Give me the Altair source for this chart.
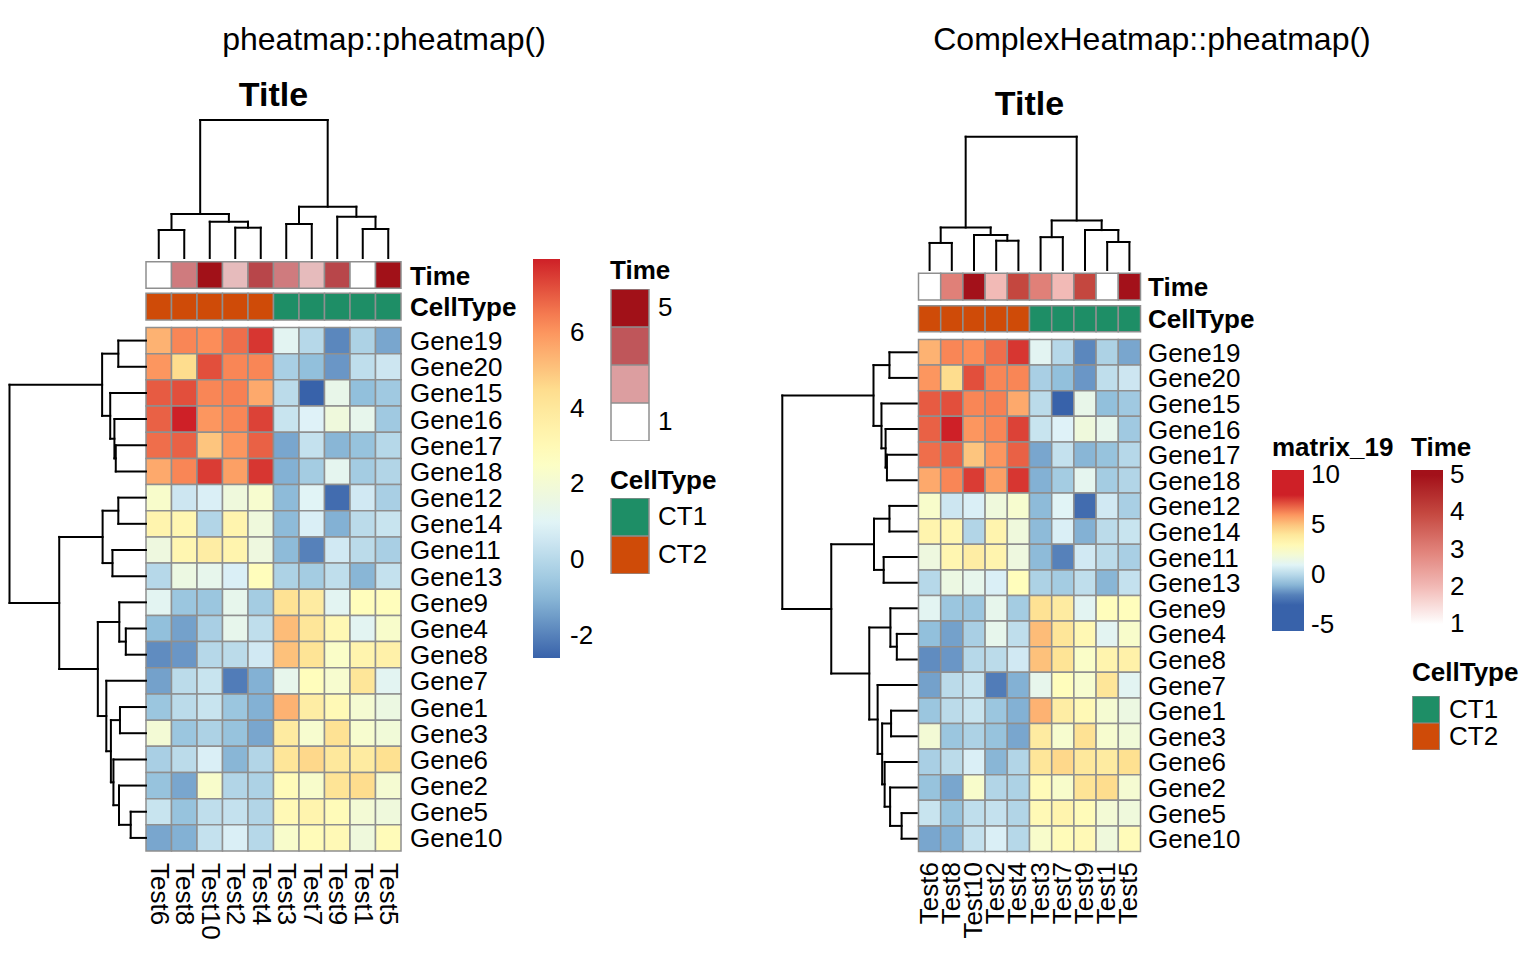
import altair as alt
import pandas as pd

# ---------------- data ----------------
genes = ["Gene19", "Gene20", "Gene15", "Gene16", "Gene17", "Gene18", "Gene12", "Gene14",
         "Gene11", "Gene13", "Gene9", "Gene4", "Gene8", "Gene7", "Gene1", "Gene3",
         "Gene6", "Gene2", "Gene5", "Gene10"]
tests = ["Test6", "Test8", "Test10", "Test2", "Test4", "Test3", "Test7", "Test9", "Test1", "Test5"]

values = [
    [5.4, 6.3, 6.2, 6.7, 7.6, 1.1, 0.0, -1.9, -0.2, -1.3],   # Gene19
    [6.0, 4.5, 7.2, 6.3, 6.3, -0.3, -0.8, -1.6, 0.2, 0.5],   # Gene20
    [7.0, 7.2, 6.3, 6.4, 5.6, 0.1, -2.59, 1.4, -0.8, -0.5],  # Gene15
    [6.9, 7.95, 6.0, 6.3, 7.4, 0.4, 0.9, 1.8, 1.3, -0.5],    # Gene16
    [6.7, 6.9, 5.0, 6.0, 6.9, -1.3, 0.3, -1.0, -0.7, 0.0],   # Gene17
    [5.6, 6.3, 7.5, 5.8, 7.6, -1.1, -0.4, 1.2, -0.4, -0.1],  # Gene18
    [2.3, 0.5, 0.8, 1.8, 2.2, -0.9, 1.0, -2.4, 0.6, -0.3],   # Gene12
    [3.3, 3.2, -0.1, 3.3, 1.8, -0.9, 0.8, -1.1, 0.1, 0.4],   # Gene14
    [1.7, 3.2, 3.7, 3.3, 1.7, -0.9, -2.0, 0.6, 0.1, -0.3],   # Gene11
    [0.0, 1.6, 1.3, 0.8, 2.8, -0.2, -0.4, 0.2, -1.0, 0.3],   # Gene13
    [1.1, -0.6, -0.6, 1.3, -0.4, 4.3, 3.8, 1.1, 2.8, 2.8],   # Gene9
    [-0.8, -1.4, -0.3, 1.3, 0.2, 5.2, 4.1, 3.1, 1.1, 2.3],   # Gene4
    [-1.8, -1.6, 0.0, 0.1, 0.6, 5.1, 4.2, 2.4, 3.3, 3.5],    # Gene8
    [-1.4, 0.1, 0.4, -2.1, -1.1, 1.3, 2.8, 2.2, 4.1, 1.1],   # Gene7
    [-0.6, 0.1, 0.4, -0.6, -1.1, 5.4, 3.7, 3.0, 2.1, 1.6],   # Gene1
    [2.0, -0.6, -0.2, -0.7, -1.3, 3.8, 2.2, 4.3, 2.2, 1.9],  # Gene3
    [-0.3, 0.1, 0.8, -1.0, -0.1, 4.1, 4.6, 4.0, 3.8, 4.4],   # Gene6
    [-0.7, -1.3, 2.3, -0.1, -0.2, 2.9, 2.3, 4.2, 4.5, 2.1],  # Gene2
    [0.4, -0.7, 0.2, 0.3, -0.1, 3.0, 3.3, 2.9, 2.0, 1.8],    # Gene5
    [-1.3, -1.1, 0.3, 0.8, 0.0, 2.3, 2.9, 3.0, 1.8, 2.9],    # Gene10
]

time_values = [1, 3, 5, 2, 4, 3, 2, 4, 1, 5]
cell_types = ["CT2", "CT2", "CT2", "CT2", "CT2", "CT1", "CT1", "CT1", "CT1", "CT1"]

# hclust-style merges (negative = leaf in display order, positive = earlier merge), height
col_merges = [(-1, -2, 28.0), (-4, -5, 30.3), (-3, 2, 36.3), (1, 3, 44.0), (-6, -7, 34.0),
              (-9, -10, 29.0), (-8, 6, 41.3), (5, 7, 51.3), (4, 8, 138.0)]
row_merges = [(-1, -2, 28.4), (-5, -6, 31.0), (-4, 2, 32.4), (-3, 3, 36.7), (1, 4, 45.0),
              (-7, -8, 28.4), (-9, -10, 34.4), (6, 7, 44.5), (-12, -13, 20.7), (-11, 9, 27.4),
              (-15, -16, 26.7), (-19, -20, 15.7), (-18, 12, 27.7), (-17, 13, 33.4), (11, 14, 36.0),
              (-14, 15, 40.7), (10, 16, 49.4), (8, 17, 89.0), (5, 18, 140.0)]

heat_ticks_left = [-2, 0, 2, 4, 6]
heat_ticks_right = [-5, 0, 5, 10]
time_ticks_right = [1, 2, 3, 4, 5]
time_swatches_left = [5, 3.7, 2.45, 1]
celltype_levels = ["CT1", "CT2"]

headers = ["pheatmap::pheatmap()", "ComplexHeatmap::pheatmap()"]
main_title = "Title"
matrix_name = "matrix_19"

# ---------------- styles ----------------
FONT = "Liberation Sans"
BORDER = "#8f8f8f"
TOP = 8
H = 936
heat_colors = ["#3862AA", "#91BFDB", "#E0F3F8", "#FFFFBF", "#FEE090", "#FC8D59", "#CE2027"]
heat_lo, heat_hi = -2.59, 7.95
heat_stops = [heat_lo + k * (heat_hi - heat_lo) / 6 for k in range(7)]
time_left_colors = ["#FFFFFF", "#E6BBBC", "#CF7B7E", "#B8464A", "#A11118"]
time_right_colors = ["#FFFFFF", "#FFFFFF", "#F2BAB6", "#E08078", "#C4473F", "#A3111A", "#A3111A"]
ct_colors = ["#1E8E66", "#CF4B08"]
PLAIN_NUM = "datum.value + ''"

heat_df = pd.DataFrame([
    {"gene": g, "test": t, "value": values[i][j], "r0": i, "r1": i + 1, "c0": j, "c1": j + 1}
    for i, g in enumerate(genes) for j, t in enumerate(tests)
])
ann_df = pd.DataFrame({"test": tests, "Time": time_values, "CellType": cell_types,
                       "c0": list(range(len(tests))), "c1": [j + 1 for j in range(len(tests))],
                       "cc": [j + 0.5 for j in range(len(tests))]})
gene_df = pd.DataFrame({"gene": genes, "rc": [i + 0.5 for i in range(len(genes))]})


def dendro_segments(merges):
    pos, hgt, segs = {}, {}, []

    def ref(k):
        if k < 0:
            return (-k - 1) + 0.5, 0.0
        return pos[k], hgt[k]

    for idx, (a, b, h) in enumerate(merges, 1):
        pa, ha = ref(a)
        pb, hb = ref(b)
        segs += [(pa, ha, pa, h), (pb, hb, pb, h), (pa, h, pb, h)]
        pos[idx] = (pa + pb) / 2
        hgt[idx] = h
    return segs, merges[-1][2]


def txt(size, bold=False):
    return dict(font=FONT, fontSize=size, fontWeight="bold" if bold else "normal", color="black")


def build_panel(g):
    x0, W = g["page_x0"], g["width"]
    cl, cw, ct, rh = g["cell_left"], g["cw"], g["cell_top"], g["rh"]

    def ux(px):
        return (px - cl) / cw

    def uy(py):
        return (py - ct) / rh

    xs = alt.Scale(domain=[ux(x0), ux(x0 + W)], nice=False, zero=False)
    ys = alt.Scale(domain=[uy(TOP + H), uy(TOP)], nice=False, zero=False)

    def X(f):
        return alt.X(f, type="quantitative", scale=xs, axis=None)

    def Y(f):
        return alt.Y(f, type="quantitative", scale=ys, axis=None)

    def XD(v):
        return alt.XDatum(v, scale=xs, axis=None)

    def YD(v):
        return alt.YDatum(v, scale=ys, axis=None)

    layers = []
    # heatmap cells
    layers.append(alt.Chart(heat_df).mark_rect(stroke=BORDER, strokeWidth=1.5).encode(
        x=X("c0"), x2="c1", y=Y("r0"), y2="r1",
        fill=alt.Fill("value:Q", scale=g["heat_scale"], legend=g["heat_legend"]),
        tooltip=["gene", "test", "value"]))
    # Time annotation
    layers.append(alt.Chart(ann_df).mark_rect(stroke=BORDER, strokeWidth=1.5).encode(
        x=X("c0"), x2="c1", y=YD(uy(g["time_row"][0])), y2=alt.datum(uy(g["time_row"][1])),
        fill=alt.Fill("Time:Q", scale=g["time_scale"], legend=g["time_legend"])))
    # CellType annotation
    layers.append(alt.Chart(ann_df).mark_rect(stroke=BORDER, strokeWidth=1.5).encode(
        x=X("c0"), x2="c1", y=YD(uy(g["ct_row"][0])), y2=alt.datum(uy(g["ct_row"][1])),
        fill=alt.Fill("CellType:N", scale=alt.Scale(domain=celltype_levels, range=ct_colors),
                      legend=g["ct_legend"])))

    # column dendrogram
    segs, root = dendro_segments(col_merges)
    base, top = uy(g["col_dendro"][0]), uy(g["col_dendro"][1])
    cd = pd.DataFrame([{"x": p1, "x2": p2,
                        "y": base - h1 / root * (base - top), "y2": base - h2 / root * (base - top)}
                       for p1, h1, p2, h2 in segs])
    layers.append(alt.Chart(cd).mark_rule(color="black", strokeWidth=2, strokeCap="square").encode(
        x=X("x"), x2="x2", y=Y("y"), y2="y2"))
    # row dendrogram
    segs, root = dendro_segments(row_merges)
    base, left = ux(g["row_dendro"][0]), ux(g["row_dendro"][1])
    rd = pd.DataFrame([{"y": p1, "y2": p2,
                        "x": base - h1 / root * (base - left), "x2": base - h2 / root * (base - left)}
                       for p1, h1, p2, h2 in segs])
    layers.append(alt.Chart(rd).mark_rule(color="black", strokeWidth=2, strokeCap="square").encode(
        x=X("x"), x2="x2", y=Y("y"), y2="y2"))

    # gene labels
    layers.append(alt.Chart(gene_df).mark_text(align="left", baseline="middle", dy=1.5,
                                               **txt(26)).encode(
        x=XD(ux(g["label_x"])), y=Y("rc"), text="gene:N"))
    # column labels
    layers.append(alt.Chart(ann_df).mark_text(angle=g["col_angle"], align=g["col_align"],
                                               baseline="middle", **txt(26)).encode(
        x=X("cc"), y=YD(uy(g["col_label_y"])), text="test:N"))
    # annotation names
    ann_names = pd.DataFrame({"name": ["Time", "CellType"],
                              "yc": [uy(sum(g["time_row"]) / 2), uy(sum(g["ct_row"]) / 2)]})
    layers.append(alt.Chart(ann_names).mark_text(align="left", baseline="middle", dy=1.5,
                                                 **txt(26, True)).encode(
        x=XD(ux(g["label_x"])), y=Y("yc"), text="name:N"))
    # header and title
    hdr = pd.DataFrame({"t": [g["header"]]})
    layers.append(alt.Chart(hdr).mark_text(align="center", baseline="middle", **txt(32)).encode(
        x=XD(ux(g["header_pos"][0])), y=YD(uy(g["header_pos"][1])), text="t:N"))
    ttl = pd.DataFrame({"t": [main_title]})
    layers.append(alt.Chart(ttl).mark_text(align="center", baseline="middle", **txt(34, True)).encode(
        x=XD(ux(g["title_pos"][0])), y=YD(uy(g["title_pos"][1])), text="t:N"))

    return alt.layer(*layers).properties(width=W, height=H).resolve_scale(fill="independent")


def leg(x, y, **kw):
    base = dict(orient="none", legendX=x, legendY=y, padding=0,
                titleFont=FONT, titleFontSize=26, titleFontWeight="bold", titleColor="black",
                labelFont=FONT, labelFontSize=26, labelColor="black", titleAnchor="start")
    base.update(kw)
    return alt.Legend(**base)


left_geom = dict(
    page_x0=8, width=760, cell_left=146, cw=25.5, cell_top=327.5, rh=26.175,
    time_row=(261.7, 288.3), ct_row=(293.3, 320.0),
    col_dendro=(258, 120), row_dendro=(146.0, 9.5),
    label_x=410, col_label_y=863, col_angle=90, col_align="left",
    header=headers[0], header_pos=(384, 40), title_pos=(273.5, 96),
    heat_scale=alt.Scale(domain=heat_stops, range=heat_colors, interpolate="rgb", clamp=True),
    heat_legend=leg(525, 251, title=None, type="gradient", direction="vertical",
                    gradientLength=399, gradientThickness=27, gradientStrokeWidth=0,
                    values=heat_ticks_left, labelOffset=10, labelExpr=PLAIN_NUM),
    time_scale=alt.Scale(domain=[1, 2, 3, 4, 5], range=time_left_colors, interpolate="rgb"),
    time_legend=leg(602, 250, title="Time", type="symbol", values=time_swatches_left,
                    symbolType="square", symbolSize=1444, symbolStrokeColor=BORDER,
                    symbolStrokeWidth=1.5, symbolOpacity=1, rowPadding=0, clipHeight=38,
                    labelOffset=8, titlePadding=5,
                    labelExpr="datum.value == 5 || datum.value == 1 ? datum.label : ''"),
    ct_legend=leg(602, 460, title="CellType", type="symbol", symbolType="square",
                  symbolSize=1444, symbolStrokeColor=BORDER, symbolStrokeWidth=1.5,
                  symbolOpacity=1, rowPadding=0, clipHeight=38, labelOffset=8, titlePadding=4),
)

right_geom = dict(
    page_x0=768, width=760, cell_left=918.5, cw=22.2, cell_top=339.5, rh=25.6,
    time_row=(273.3, 300.0), ct_row=(305.7, 331.7),
    col_dendro=(270, 136.7), row_dendro=(916.7, 782.3),
    label_x=1148, col_label_y=862, col_angle=270, col_align="right",
    header=headers[1], header_pos=(1152, 40), title_pos=(1029.5, 105),
    heat_scale=alt.Scale(domain=[-5.6] + heat_stops + [10.5],
                         range=[heat_colors[0]] + heat_colors + [heat_colors[-1]],
                         interpolate="rgb", clamp=True),
    heat_legend=leg(504, 427, title=matrix_name, type="gradient", direction="vertical",
                    gradientLength=161, gradientThickness=32, gradientStrokeWidth=0,
                    values=heat_ticks_right, labelOffset=7, titlePadding=9,
                    labelExpr=PLAIN_NUM),
    time_scale=alt.Scale(domain=[0.82, 1, 2, 3, 4, 5, 5.14], range=time_right_colors,
                         interpolate="rgb", clamp=True),
    time_legend=leg(643, 427, title="Time", type="gradient", direction="vertical",
                    gradientLength=161, gradientThickness=32, gradientStrokeWidth=0,
                    values=time_ticks_right, labelOffset=7, titlePadding=9),
    ct_legend=leg(644, 652, title="CellType", type="symbol", symbolType="square",
                  symbolSize=729, symbolStrokeColor=BORDER, symbolStrokeWidth=1,
                  symbolOpacity=1, rowPadding=0, clipHeight=27, labelOffset=9, titlePadding=10),
)

chart = alt.hconcat(build_panel(left_geom), build_panel(right_geom), spacing=0).resolve_scale(
    fill="independent", x="independent", y="independent"
).properties(padding=0, background="white").configure_view(stroke=None)

chart.save("out.html", embed_options={"renderer": "svg", "actions": False})
